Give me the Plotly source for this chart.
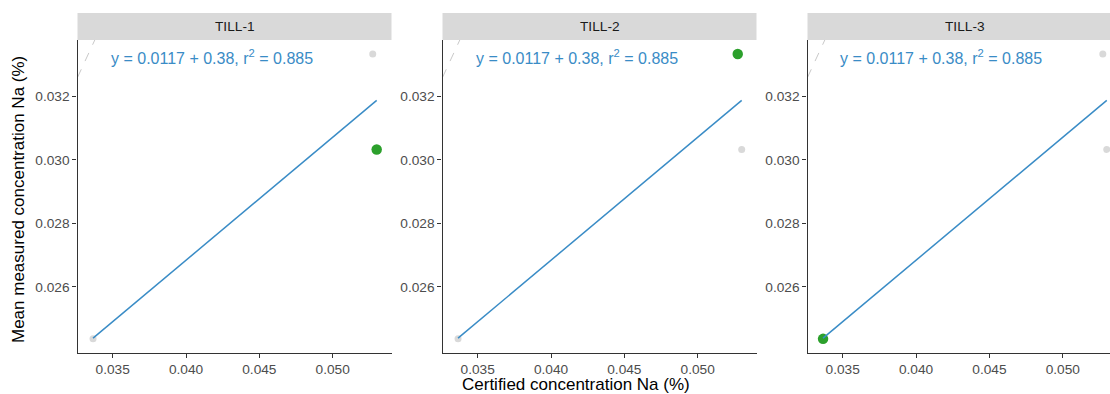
import numpy as np
import plotly.graph_objects as go

# ---- data ----
samples = ["TILL-1", "TILL-2", "TILL-3"]
certified = [0.05300, 0.05273, 0.03366]   # Certified concentration Na (%)
measured = [0.03033, 0.03334, 0.02436]    # Mean measured concentration Na (%)
eq_label = "y = 0.0117 + 0.38, r<sup>2</sup> = 0.885"
x_ticks = [0.035, 0.040, 0.045, 0.050]
x_tick_text = ["0.035", "0.040", "0.045", "0.050"]
y_ticks = [0.026, 0.028, 0.030, 0.032]
y_tick_text = ["0.026", "0.028", "0.030", "0.032"]

# body margin is removed by a post script, so the figure fills the window
OFF = 0
WIN_W, WIN_H = 1110, 394
W, H = WIN_W - OFF, WIN_H - OFF
FONT = "Liberation Sans, Arial, Helvetica, sans-serif"
BLUE = "#3a8cc6"
GREEN = "#2ca02c"
LIGHT = "#d9d9d9"

slope, intercept = np.polyfit(certified, measured, 1)
fit_x = [min(certified), max(certified)]
fit_y = [intercept + slope * v for v in fit_x]

x_range_full = [0.03260, 0.05401]
x_range_last = [0.03260, 0.05322]
y_range = [0.02393, 0.03378]

# panel pixel boxes in window coordinates (left, right)
panel_px = [(77.5, 391.5), (442.5, 756.5), (807.5, 1110)]
PANEL_W = 314
top_px, bot_px = 40, 352.5
strip_top_px = 13


def px_x(p):
    return min(max((p - OFF) / W, 0.0), 1.0)


def px_y(p):
    return (H - (p - OFF)) / H


fig = go.Figure()
layout_axes = {}
shapes = []
annotations = []

for i, name in enumerate(samples):
    n = "" if i == 0 else str(i + 1)
    xa, ya = "x" + n, "y" + n
    # identity line (1:1)
    fig.add_trace(go.Scatter(x=x_range_full, y=x_range_full, mode="lines",
                             line=dict(color="#c8c8c8", width=1, dash="dash"),
                             xaxis=xa, yaxis=ya, showlegend=False, hoverinfo="skip"))
    # other samples in grey
    ox = [c for j, c in enumerate(certified) if j != i]
    oy = [m for j, m in enumerate(measured) if j != i]
    fig.add_trace(go.Scatter(x=ox, y=oy, mode="markers",
                             marker=dict(color=LIGHT, size=7),
                             xaxis=xa, yaxis=ya, showlegend=False))
    # highlighted sample
    fig.add_trace(go.Scatter(x=[certified[i]], y=[measured[i]], mode="markers",
                             marker=dict(color=GREEN, size=10.5),
                             xaxis=xa, yaxis=ya, showlegend=False))
    # regression line
    fig.add_trace(go.Scatter(x=fit_x, y=fit_y, mode="lines",
                             line=dict(color=BLUE, width=1.5),
                             xaxis=xa, yaxis=ya, showlegend=False))

    l, r = panel_px[i]
    rng = x_range_last if i == 2 else x_range_full
    axis_common = dict(showline=True, linecolor="#333333", linewidth=1.3,
                       ticks="outside", ticklen=4, tickwidth=1, tickcolor="#333333",
                       showgrid=False, zeroline=False,
                       tickfont=dict(family=FONT, size=13.7, color="#4d4d4d"))
    layout_axes["xaxis" + n] = dict(domain=[px_x(l), px_x(r)], range=rng,
                                   anchor=ya, tickvals=x_ticks, ticktext=x_tick_text,
                                   **axis_common)
    layout_axes["yaxis" + n] = dict(domain=[px_y(bot_px), px_y(top_px)], range=y_range,
                                   anchor=xa, tickvals=y_ticks, ticktext=y_tick_text,
                                   **axis_common)
    # strip
    shapes.append(dict(type="rect", xref="paper", yref="paper",
                       x0=px_x(l), x1=px_x(r),
                       y0=px_y(top_px), y1=px_y(strip_top_px),
                       fillcolor=LIGHT, line=dict(width=0), layer="below"))
    annotations.append(dict(text=name, xref="paper", yref="paper",
                            x=px_x(l + PANEL_W / 2), y=px_y((top_px + strip_top_px) / 2),
                            showarrow=False, xanchor="center", yanchor="middle",
                            font=dict(family=FONT, size=13.7, color="#1a1a1a")))
    # equation label
    annotations.append(dict(text=eq_label, xref="paper", yref="paper",
                            x=px_x(l + 31), y=px_y(57), showarrow=False,
                            xanchor="left", yanchor="middle",
                            font=dict(family=FONT, size=16, color=BLUE)))

annotations.append(dict(text="Certified concentration Na (%)", xref="paper", yref="paper",
                        x=px_x(576), y=px_y(384), showarrow=False,
                        xanchor="center", yanchor="middle",
                        font=dict(family=FONT, size=17, color="#000000")))
annotations.append(dict(text="Mean measured concentration Na (%)", xref="paper", yref="paper",
                        x=px_x(18), y=px_y(200), showarrow=False, textangle=-90,
                        xanchor="center", yanchor="middle",
                        font=dict(family=FONT, size=17, color="#000000")))

fig.update_layout(width=W, height=H, margin=dict(l=0, r=0, t=0, b=0),
                  paper_bgcolor="white", plot_bgcolor="white",
                  shapes=shapes, annotations=annotations, showlegend=False,
                  hovermode=False, **layout_axes)

fig.write_html("out.html",
               config={"displayModeBar": False},
               post_script="document.body.style.margin='0';document.body.style.overflow='hidden';")
